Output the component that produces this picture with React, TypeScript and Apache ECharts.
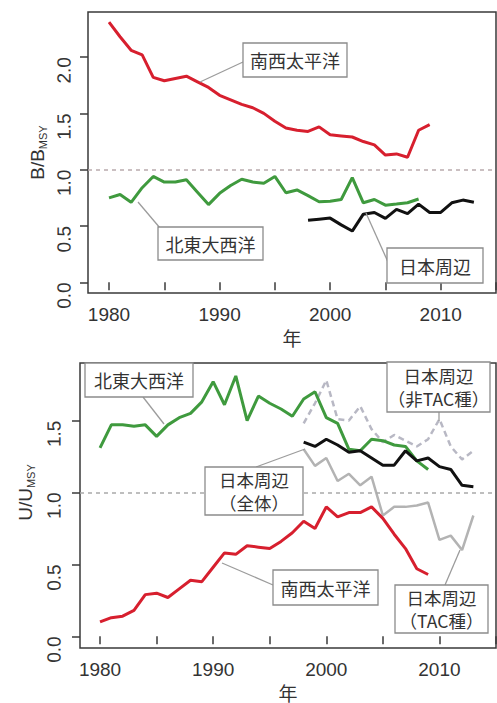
import React, { useEffect, useRef } from "react";
import * as echarts from "echarts";

// ---- Data ----
const tickYears = [1980, 1985, 1990, 1995, 2000, 2005, 2010, 2015];
const labelYears = [1980, 1990, 2000, 2010];
const yTicks = [0, 0.5, 1, 1.5, 2];
const yTicksBottom = [0, 0.5, 1, 1.5];

// Top panel: B/B_MSY
const swStartB = 1980; // 南西太平洋
const swB = [2.31, 2.18, 2.06, 2.02, 1.82, 1.79, 1.81, 1.83, 1.78, 1.73, 1.66, 1.62, 1.58, 1.55, 1.5, 1.43, 1.37, 1.35, 1.34, 1.38, 1.31, 1.3, 1.29, 1.25, 1.22, 1.13, 1.14, 1.11, 1.35, 1.4];
const neaStartB = 1980; // 北東大西洋
const neaB = [0.75, 0.78, 0.71, 0.84, 0.94, 0.89, 0.89, 0.91, 0.8, 0.69, 0.79, 0.86, 0.915, 0.89, 0.88, 0.94, 0.795, 0.82, 0.77, 0.715, 0.72, 0.735, 0.93, 0.706, 0.735, 0.685, 0.695, 0.706, 0.74];
const jpStartB = 1998; // 日本周辺
const jpB = [0.55, 0.56, 0.57, 0.51, 0.455, 0.605, 0.62, 0.567, 0.647, 0.61, 0.694, 0.62, 0.62, 0.706, 0.73, 0.71];

// Bottom panel: U/U_MSY
const neaStartU = 1980;
const neaU = [1.31, 1.47, 1.47, 1.46, 1.47, 1.39, 1.47, 1.52, 1.55, 1.63, 1.77, 1.61, 1.81, 1.5, 1.67, 1.62, 1.58, 1.53, 1.65, 1.7, 1.52, 1.48, 1.3, 1.29, 1.37, 1.36, 1.33, 1.32, 1.22, 1.16];
const swStartU = 1980;
const swU = [0.1, 0.13, 0.14, 0.18, 0.29, 0.3, 0.27, 0.33, 0.39, 0.38, 0.48, 0.58, 0.57, 0.63, 0.62, 0.61, 0.66, 0.72, 0.8, 0.75, 0.9, 0.83, 0.86, 0.86, 0.9, 0.82, 0.71, 0.61, 0.47, 0.43];
const jpStartU = 1998;
const jpAllU = [1.35, 1.32, 1.37, 1.33, 1.28, 1.29, 1.24, 1.19, 1.19, 1.29, 1.22, 1.24, 1.18, 1.16, 1.05, 1.04];
const jpNonTacU = [1.48, 1.62, 1.78, 1.51, 1.5, 1.6, 1.44, 1.35, 1.4, 1.36, 1.32, 1.37, 1.51, 1.32, 1.23, 1.29];
const jpTacU = [1.3, 1.185, 1.24, 1.08, 1.13, 1.05, 1.11, 0.84, 0.9, 0.9, 0.91, 0.93, 0.67, 0.7, 0.6, 0.84];

const pairs = (start: number, vals: number[]) => vals.map((v, i) => [start + i, v]);

const RED = "#d71f2e";
const GREEN = "#3f9a3e";
const BLACK = "#111111";
const GRAY = "#b3b3b3";
const GRAYD = "#b8b8c4";
const AXIS = "#3a3a3a";
const TXT = "#333333";
const SANS = "'Liberation Sans', Arial, sans-serif";
const CJK = "'Noto Sans CJK JP', sans-serif";

function labelBox(x: number, y: number, w: number, h: number, lines: string[]) {
  const out: any[] = [
    { type: "rect", z: 101, shape: { x, y, width: w, height: h }, style: { fill: "#ffffff", stroke: "#8c8c8c", lineWidth: 1.3 } },
  ];
  const lh = 23;
  const fs = lines.length > 1 ? 17.5 : 18;
  const y0 = y + h / 2 - ((lines.length - 1) * lh) / 2;
  lines.forEach((t, i) => {
    out.push({
      type: "text", z: 102, x: x + w / 2, y: y0 + i * lh,
      style: { text: t, fill: TXT, fontSize: fs, fontFamily: CJK, align: "center", verticalAlign: "middle", textAlign: "center", textVerticalAlign: "middle" },
    });
  });
  return out;
}
function leader(x1: number, y1: number, x2: number, y2: number) {
  return { type: "line", z: 99, shape: { x1, y1, x2, y2 }, style: { stroke: "#9c9c9c", lineWidth: 1.3 } };
}

const dashLine = (color: string) => ({
  silent: true, symbol: "none", label: { show: false },
  lineStyle: { color, type: [4, 4], width: 1.6 },
  data: [{ yAxis: 1 }],
});

function xAxisCfg(gridIndex: number, min: number) {
  return {
    type: "value", gridIndex, min, max: 2015,
    axisLine: { show: false }, splitLine: { show: false },
    axisTick: { show: true, length: 8, customValues: tickYears, lineStyle: { color: AXIS, width: 1.5 } },
    axisLabel: { customValues: labelYears, margin: 12, fontSize: 19, color: TXT, fontFamily: SANS, formatter: (v: number) => String(v) },
    name: "年", nameLocation: "middle", nameGap: 35, nameMoveOverlap: false,
    nameTextStyle: { fontSize: 19, color: TXT, fontFamily: CJK },
  };
}
function yAxisCfg(gridIndex: number, min: number, max: number, ticks: number[], sym: string, gap: number, pad: number[], margin: number) {
  return {
    type: "value", gridIndex, min, max,
    axisLine: { show: false }, splitLine: { show: false },
    axisTick: { show: true, length: 8, customValues: ticks, lineStyle: { color: AXIS, width: 1.5 } },
    axisLabel: {
      customValues: ticks, rotate: 89.9, margin, fontSize: 19, color: TXT, fontFamily: SANS,
      formatter: (v: number) => v.toFixed(1),
    },
    name: `{m|${sym}/${sym}}{s|MSY}`, nameLocation: "middle", nameRotate: 90, nameGap: gap, nameMoveOverlap: false,
    nameTextStyle: {
      padding: pad,
      rich: {
        m: { fontSize: 19, color: TXT, fontFamily: SANS, lineHeight: 22 },
        s: { fontSize: 11, color: TXT, fontFamily: SANS, verticalAlign: "bottom", lineHeight: 16 },
      },
    },
  };
}

export default function App() {
  const ref = useRef<HTMLDivElement>(null);
  useEffect(() => {
    if (!ref.current) return;
    const chart = echarts.init(ref.current, undefined, { renderer: "svg" });
    const line = (xi: number, data: number[][], color: string, width: number, z: number, extra: any = {}) => ({
      type: "line", xAxisIndex: xi, yAxisIndex: xi, data, symbol: "none", showSymbol: false, z,
      lineStyle: { color, width, ...(extra.lineStyle || {}) }, ...(extra.markLine ? { markLine: extra.markLine } : {}),
    });
    chart.setOption({
      animation: false,
      grid: [
        { left: 88, top: 12, width: 408, height: 281, show: true, borderColor: AXIS, borderWidth: 1.5, backgroundColor: "transparent" },
        { left: 80, top: 363, width: 416, height: 287, show: true, borderColor: AXIS, borderWidth: 1.5, backgroundColor: "transparent" },
      ],
      xAxis: [xAxisCfg(0, 1978.1), xAxisCfg(1, 1978.23)],
      yAxis: [
        yAxisCfg(0, -0.095, 2.4, yTicks, "B", 40, [0, 0, 0, 0], 24),
        yAxisCfg(1, -0.081, 1.9, yTicksBottom, "U", 44, [0, 0, 0, 26], 26),
      ],
      series: [
        line(0, pairs(neaStartB, neaB), GREEN, 3, 3, { markLine: dashLine("#b9abad") }),
        line(0, pairs(jpStartB, jpB), BLACK, 3, 4),
        line(0, pairs(swStartB, swB), RED, 3, 5),
        line(1, pairs(jpStartU, jpNonTacU), GRAYD, 2.5, 2, { lineStyle: { type: [6, 4] }, markLine: dashLine("#a9a9a9") }),
        line(1, pairs(jpStartU, jpTacU), GRAY, 2.5, 2),
        line(1, pairs(neaStartU, neaU), GREEN, 3, 3),
        line(1, pairs(jpStartU, jpAllU), BLACK, 3, 4),
        line(1, pairs(swStartU, swU), RED, 3, 5),
      ],
      graphic: [
        // top panel
        leader(243, 62, 200, 82),
        ...labelBox(243, 43, 104, 34, ["南西太平洋"]),
        leader(138, 202, 160, 228),
        ...labelBox(158, 227, 105, 33, ["北東大西洋"]),
        leader(366, 213, 388, 262),
        ...labelBox(387, 248, 96, 35, ["日本周辺"]),
        // bottom panel
        leader(143, 397, 164, 424),
        ...labelBox(85, 363, 108, 34, ["北東大西洋"]),
        leader(256, 467, 305, 449),
        ...labelBox(205, 467, 98, 48, ["日本周辺", "（全体）"]),
        leader(222, 563, 273, 585),
        ...labelBox(273, 570, 105, 35, ["南西太平洋"]),
        leader(439, 412, 439, 421),
        ...labelBox(387, 362, 103, 50, ["日本周辺", "（非TAC種）"]),
        leader(445, 585, 460, 550),
        ...labelBox(395, 585, 93, 48, ["日本周辺", "（TAC種）"]),
      ],
    });
    return () => chart.dispose();
  }, []);
  return <div ref={ref} style={{ position: "fixed", left: 0, top: 0, width: 497, height: 703, background: "#fff" }} />;
}
